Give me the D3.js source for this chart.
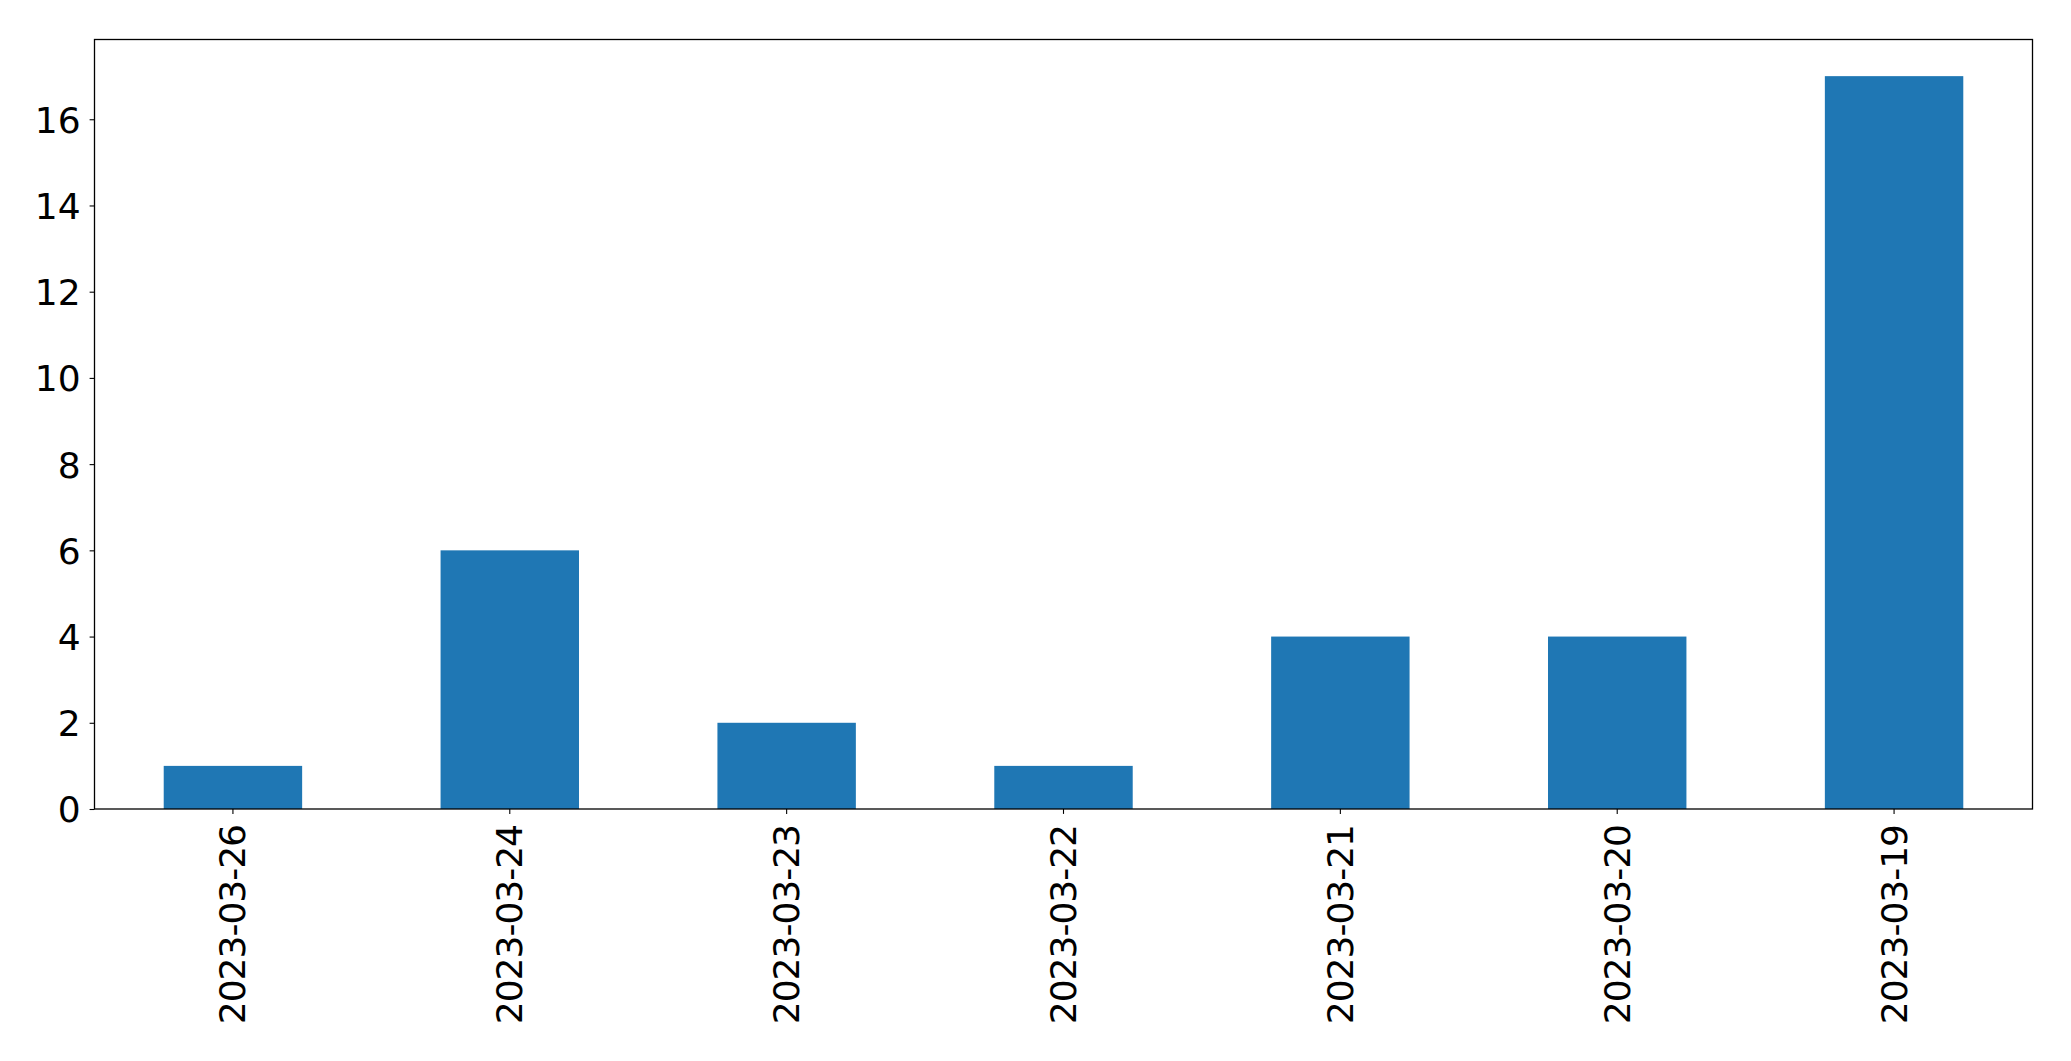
<!DOCTYPE html>
<html>
<head>
<meta charset="utf-8">
<script src="https://cdn.jsdelivr.net/npm/d3@7"></script>
<style>
html,body{margin:0;padding:0;background:#fff;}
svg{display:block;}
text{font-family:"DejaVu Sans",sans-serif;fill:#000;}
</style>
</head>
<body>
<svg id="chart" width="2071" height="1061"></svg>
<script>
const categories = ["2023-03-26","2023-03-24","2023-03-23","2023-03-22","2023-03-21","2023-03-20","2023-03-19"];
const values = [1, 6, 2, 1, 4, 4, 17];
const yTicks = [0, 2, 4, 6, 8, 10, 12, 14, 16];

const W = 2071, H = 1061;
const m = {left: 94.5, right: W - 2032.5, top: 39.5, bottom: H - 809};
const svg = d3.select("#chart");
const g = svg.append("g");

const x = d3.scaleBand().domain(categories).range([m.left, W - m.right]).paddingInner(0.5).paddingOuter(0.25);
const yMax = d3.max(values) * 1.05;
const y = d3.scaleLinear().domain([0, yMax]).range([H - m.bottom, m.top]);

g.selectAll("rect.bar").data(values).join("rect")
  .attr("class","bar")
  .attr("x",(d,i)=>x(categories[i]))
  .attr("width",x.bandwidth())
  .attr("y",d=>y(d))
  .attr("height",d=>y(0)-y(d))
  .attr("fill","#1f77b4");

const fs = 36;
const yAxis = g.append("g").attr("transform",`translate(${m.left},0)`)
  .call(d3.axisLeft(y).tickValues(yTicks).tickSize(4.9).tickPadding(9).tickFormat(d3.format("d")));
yAxis.select(".domain").remove();
yAxis.selectAll("line").attr("stroke","#000").attr("stroke-width",1.1);
yAxis.selectAll("text").style("font-size",fs+"px").attr("dy","0.36em");

const xAxis = g.append("g").attr("transform",`translate(0,${H-m.bottom})`)
  .call(d3.axisBottom(x).tickSize(4.9).tickPadding(0));
xAxis.select(".domain").remove();
xAxis.selectAll("line").attr("stroke","#000").attr("stroke-width",1.1);
xAxis.selectAll("text")
  .style("font-size",fs+"px")
  .style("letter-spacing","-1px")
  .attr("text-anchor","end")
  .attr("dy",null)
  .attr("transform","translate(0,16) rotate(-90)")
  .attr("x",0).attr("y",0)
  .attr("dominant-baseline","central");

g.append("rect")
  .attr("x",m.left).attr("y",m.top)
  .attr("width",W-m.left-m.right).attr("height",H-m.top-m.bottom)
  .attr("fill","none").attr("stroke","#000").attr("stroke-width",1.3);
</script>
</body>
</html>
